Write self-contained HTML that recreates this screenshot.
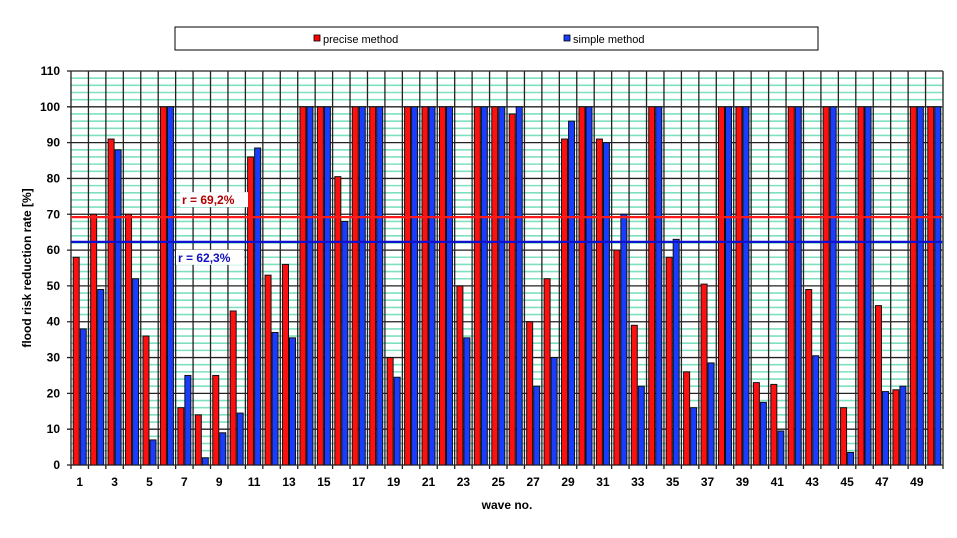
<!DOCTYPE html>
<html><head><meta charset="utf-8"><style>
body{margin:0;background:#fff;font-family:"Liberation Sans",Arial,sans-serif}
</style></head><body>
<svg id="c" width="957" height="533" xmlns="http://www.w3.org/2000/svg" font-family="Liberation Sans, Arial, sans-serif">
<g>
<rect x="175" y="27" width="643" height="23" fill="#fff" stroke="#000" stroke-width="1"/>
<rect x="314" y="35" width="6" height="6" fill="#f00" stroke="#000" stroke-width="0.8"/>
<text x="323" y="43" font-size="11">precise method</text>
<rect x="564" y="35" width="6" height="6" fill="#1a3cff" stroke="#000" stroke-width="0.8"/>
<text x="573" y="43" font-size="11">simple method</text>
</g>
<g id="grid"></g><g id="bars"></g><g id="ax"></g>
<text transform="translate(31,268) rotate(-90)" text-anchor="middle" font-size="12" font-weight="bold">flood risk reduction rate [%]</text>
<text x="507" y="509" text-anchor="middle" font-size="12" font-weight="bold">wave no.</text>
</svg>
<script>
const waves=[];for(let i=1;i<=50;i++)waves.push(i);
const precise=[58,70,91,70,36,100,16,14,25,43,86,53,56,100,100,80.5,100,100,30,100,100,100,50,100,100,98,40,52,91,100,91,60,39,100,58,26,50.5,100,100,23,22.5,100,49,100,16,100,44.5,21,100,100];
const simple=[38,49,88,52,7,100,25,2,9,14.5,88.5,37,35.5,100,100,68,100,100,24.5,100,100,100,35.5,100,100,100,22,30,96,100,90,70,22,100,63,16,28.5,100,100,17.5,9.5,100,30.5,100,3.5,100,20.5,22,100,100];
const yTicks=[0,10,20,30,40,50,60,70,80,90,100,110];
const means=[69.2,62.3];
const meanLabels=["r = 69,2%","r = 62,3%"];
const L=71,R=943,T=71,B=465,ymax=110;
const n=waves.length,cw=(R-L)/n;
const y=v=>B-(v/ymax)*(B-T);
const x=i=>L+i*cw;
const NS="http://www.w3.org/2000/svg";
function mk(p,t,a){const e=document.createElementNS(NS,t);for(const k in a)e.setAttribute(k,a[k]);document.getElementById(p).appendChild(e);return e;}
// minor green lines
for(let v=0;v<ymax;v+=2){if(v%10===0)continue;const l=mk('grid','line',{x1:L,x2:R,y1:y(v),y2:y(v),stroke:'#7fe0c0','stroke-width':1.6});

}
yTicks.forEach(v=>{const l=mk('grid','line',{x1:L-4,x2:R,y1:y(v),y2:y(v),stroke:'#222','stroke-width':1.3});


const t=mk('ax','text',{x:L-11,y:y(v)+4,'text-anchor':'end','font-size':12,'font-weight':'bold'});t.textContent=v;

});
for(let i=0;i<=n;i++){const l=mk('grid','line',{x1:x(i),x2:x(i),y1:T,y2:B+4,stroke:'#222','stroke-width':1.3});

}
const bw=6;
waves.forEach((w,i)=>{const c=x(i)+cw/2;
const r=mk('bars','rect',{x:c-bw-0.5,y:y(precise[i]),width:bw,height:B-y(precise[i]),fill:'#ff1010',stroke:'#111','stroke-width':1});


const b=mk('bars','rect',{x:c+0.5,y:y(simple[i]),width:bw,height:B-y(simple[i]),fill:'#1a3cff',stroke:'#111','stroke-width':1});


if(w%2===1){const t=mk('ax','text',{x:c,y:486,'text-anchor':'middle','font-size':12,'font-weight':'bold'});t.textContent=w;

}});
const cols=['#ff1a1a','#1010d0'],tc=['#b00000','#1010c0'],lx=[182,178],dy=[-13,20];
means.forEach((m,k)=>{const l=mk('ax','line',{x1:L,x2:R,y1:y(m),y2:y(m),stroke:cols[k],'stroke-width':2.2});


const bg=mk('ax','rect',{x:lx[k]-2,y:y(m)+dy[k]-12,width:68,height:15,fill:'#fff'});


const t=mk('ax','text',{x:lx[k],y:y(m)+dy[k],'font-size':12,'font-weight':'bold',fill:tc[k]});t.textContent=meanLabels[k];

});
const ax=mk('ax','line',{x1:R,x2:R,y1:T,y2:B,stroke:'#555','stroke-width':1.5});


</script>
</body></html>
